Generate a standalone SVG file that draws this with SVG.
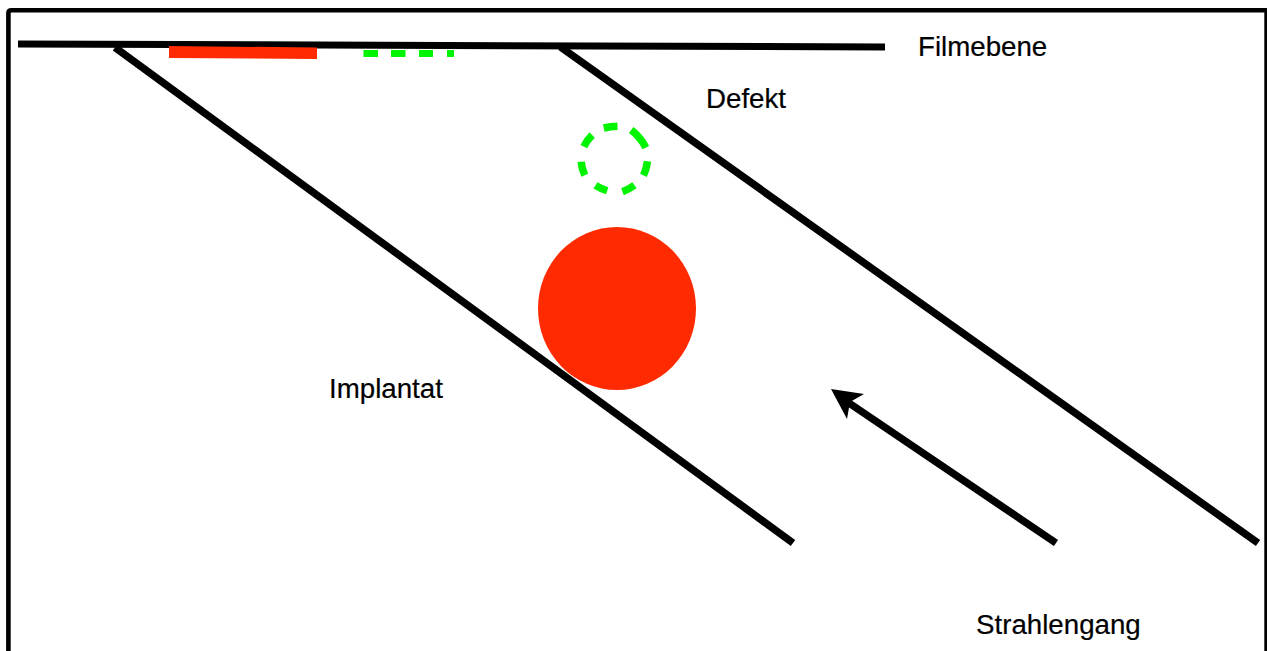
<svg xmlns="http://www.w3.org/2000/svg" width="1267" height="651" viewBox="0 0 1267 651">
<style>
.ln{fill:none;stroke:#000;stroke-width:7.500}
.gr{fill:none;stroke:#00f400;stroke-width:7}
.red{fill:#ff2a00}
text{font-family:"Liberation Sans",Arial,sans-serif;font-size:27.7px;fill:#000;stroke:#000;stroke-width:.2px}
</style>
<rect width="1267" height="651" fill="#fff"/>
<path id="frame" d="M8.400 660V13Q8.400 10.200 11.500 10.200H1266.600V660" fill="none" stroke="#000" stroke-width="4.600"/>
<g id="connectors">
<path class="ln" d="M18 44 885 47" style="stroke-width:7"/>
<path class="ln" d="M115 47.500 793 543"/>
<path class="ln" d="M560.500 47 1258 543"/>
<path class="ln" d="M1056 543 846 401"/>
<polygon points="831,389 864,394 850,402 847,419"/>
</g>
<g id="bar-red"><polygon class="red" points="169,46 317,47.500 317,59 169,58"/></g>
<g id="bar-green"><path class="gr" d="M363.500 53.500H378M391 53.500H405.500M419 53.500H433M447 53.500H454"/></g>
<g id="circle-green"><path class="gr" style="stroke-width:7.500" transform="translate(.5 0)" d="M603.300 128Q610 126.500 617 126.300M630.700 130Q640 137 645.300 147.700M647 161.300Q646 169 643 175.300M634 185.300Q628 189.500 622 191.700M606.700 190.700Q600 188.500 595 185.300M584.300 175.300Q581 168 580.700 161.700M583.300 146.700Q586.500 140 591.700 135"/></g>
<g id="circle-red"><ellipse class="red" cx="617" cy="308.500" rx="79" ry="81.500"/></g>
<g id="label-filmebene"><text x="918" y="56">Filmebene</text></g>
<g id="label-defekt"><text x="706" y="108">Defekt</text></g>
<g id="label-implantat"><text x="329" y="398">Implantat</text></g>
<g id="label-strahlengang"><text x="976" y="634">Strahlengang</text></g>
</svg>
